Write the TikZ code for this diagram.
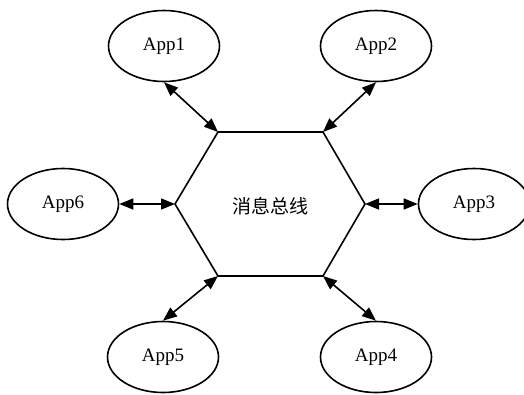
\documentclass[tikz,border=0pt]{standalone}
\usepackage{fontspec}
\setmainfont{Liberation Serif}
\newfontfamily\cjk{Noto Sans CJK SC}
\usetikzlibrary{shapes.geometric,arrows.meta}
\begin{document}
\begin{tikzpicture}[x=1pt,y=-1pt,
  app/.style={draw,ellipse,line width=1.6pt,minimum width=111pt,minimum height=71pt,inner sep=0pt,font=\fontsize{19}{22}\selectfont},
  link/.style={line width=1.6pt,{Triangle[length=14pt,width=11pt]}-{Triangle[length=14pt,width=11pt]}},
  hexline/.style={line width=1.6pt}]
\useasboundingbox (0,0) rectangle (524,394);
% hexagon vertices
\coordinate (tl) at (218,132);
\coordinate (tr) at (323,132);
\coordinate (r) at (365,204);
\coordinate (br) at (323,276);
\coordinate (bl) at (218,276);
\coordinate (l) at (175,204);
\draw[hexline] (tl) -- (tr) -- (r) -- (br) -- (bl) -- (l) -- cycle;
\node[font=\cjk\fontsize{19}{22}\selectfont] (bus) at (270,206) {消息总线};
% apps
\node[app] (a1) at (164,46) {App1};
\node[app] (a2) at (376,46) {App2};
\node[app] (a3) at (474,204) {App3};
\node[app] (a4) at (376,357) {App4};
\node[app] (a5) at (163,357) {App5};
\node[app] (a6) at (63,204) {App6};
% links
\draw[link] (a1.south) -- (tl);
\draw[link] (a2.south) -- (tr);
\draw[link] (a3.west) -- (r);
\draw[link] (a4.north) -- (br);
\draw[link] (a5.north) -- (bl);
\draw[link] (a6.east) -- (l);
\end{tikzpicture}
\end{document}
